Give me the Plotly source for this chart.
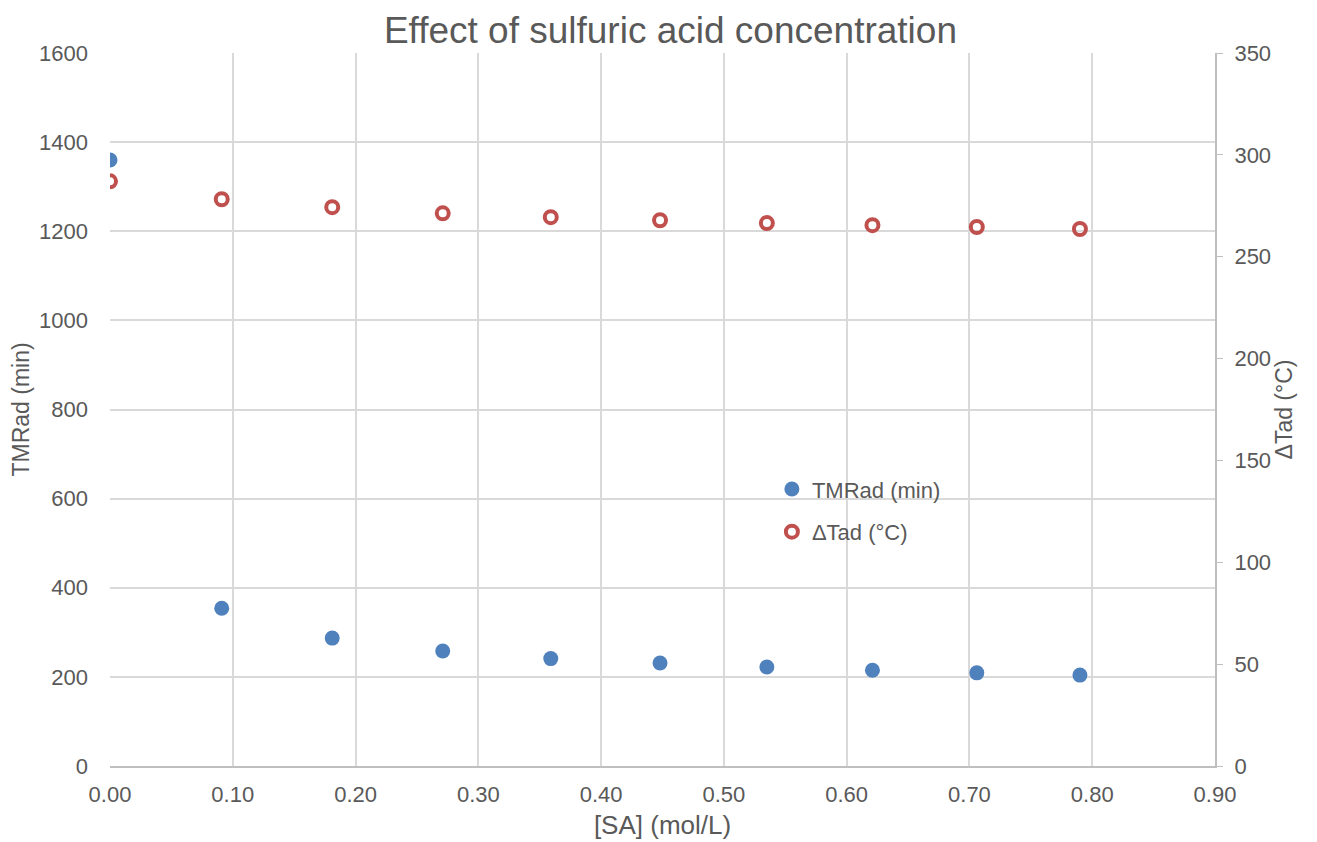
import plotly.graph_objects as go

sa = [0.000, 0.091, 0.181, 0.271, 0.359, 0.448, 0.535, 0.621, 0.706, 0.790]
tmrad = [1360, 354, 287, 258, 241, 231, 222, 215, 209, 204]
dtad = [287.0, 278.2, 274.3, 271.3, 269.4, 267.9, 266.5, 265.5, 264.6, 263.6]

grey = "#595959"
font = "Liberation Sans, Arial, sans-serif"
fs = 22

fig = go.Figure()
fig.add_trace(go.Scatter(
    x=sa, y=tmrad, mode="markers", name="TMRad (min)", legendgroup="a",
    marker=dict(symbol="circle", size=15, color="#4F81BD"),
))
fig.add_trace(go.Scatter(
    x=sa, y=dtad, mode="markers", name="ΔTad (°C)", yaxis="y2", legendgroup="b",
    marker=dict(symbol="circle-open", size=12, color="#C0504D", line=dict(width=4, color="#C0504D")),
))

fig.update_layout(
    width=1317, height=842,
    paper_bgcolor="white", plot_bgcolor="white",
    margin=dict(l=102, r=110, t=45, b=84, autoexpand=False),
    font=dict(family=font, size=fs, color=grey),
    title=dict(text="Effect of sulfuric acid concentration", x=0.503, xanchor="center",
               y=0.974, yanchor="middle", font=dict(size=37, color=grey)),
    xaxis=dict(range=[0, 0.9], dtick=0.1, tickformat=".2f", showgrid=True,
               gridcolor="#D9D9D9", gridwidth=1.5, showline=True, linecolor="#BFBFBF", linewidth=2,
               zeroline=False, ticks="", ticklabelstandoff=8, title=dict(text="[SA] (mol/L)", standoff=9),
               tickfont=dict(size=fs, color=grey)),
    yaxis=dict(range=[0, 1600], dtick=200, showgrid=True, gridcolor="#D9D9D9", gridwidth=1.5,
               showline=False, zeroline=False, ticks="", ticklabelstandoff=21,
               title=dict(text="TMRad (min)", standoff=5, font=dict(size=23)), tickfont=dict(size=fs, color=grey)),
    yaxis2=dict(range=[0, 350], dtick=50, overlaying="y", side="right", showgrid=False,
                showline=True, linecolor="#BFBFBF", linewidth=2, zeroline=False,
                ticks="outside", ticklen=6, tickcolor="#BFBFBF", ticklabelstandoff=7,
                title=dict(text="ΔTad (°C)", standoff=3, font=dict(size=23)), tickfont=dict(size=fs, color=grey)),
    legend=dict(x=0.599, y=0.358, xanchor="left", yanchor="middle", bgcolor="rgba(0,0,0,0)",
                traceorder="grouped", tracegroupgap=11, itemwidth=30,
                font=dict(size=fs, color=grey)),
    showlegend=True,
)

fig.write_html("out.html")
